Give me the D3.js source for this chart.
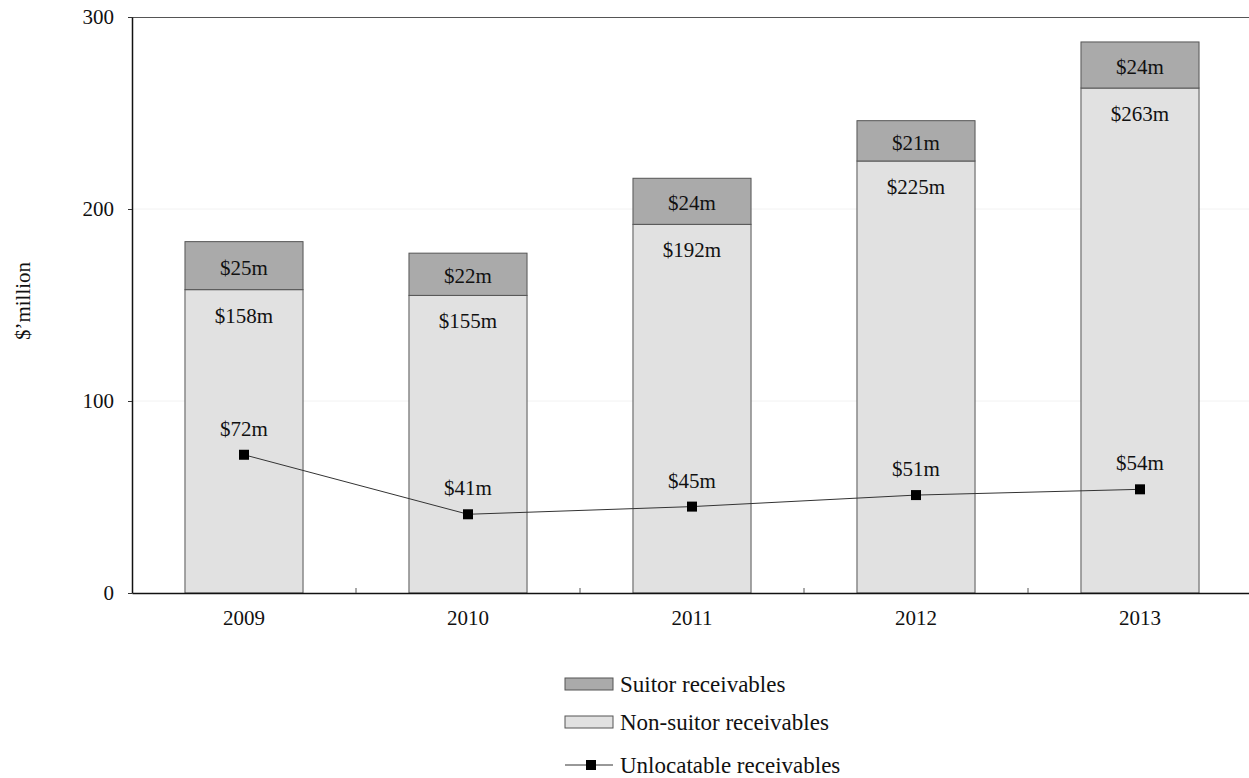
<!DOCTYPE html>
<html>
<head>
<meta charset="utf-8">
<script src="https://cdn.jsdelivr.net/npm/d3@7"></script>
<style>
  html, body { margin: 0; padding: 0; background: #fff; }
  svg { display: block; }
  svg text { font-family: "Liberation Serif", "Times New Roman", serif; fill: #111; }
</style>
</head>
<body>
<svg id="chart" width="1249" height="778"></svg>
<script>
// Receivables by year ($ million)
const years = ["2009", "2010", "2011", "2012", "2013"];
const nonSuitor = [158, 155, 192, 225, 263];
const suitor = [25, 22, 24, 21, 24];
const unlocatable = [72, 41, 45, 51, 54];
const yTicks = [0, 100, 200, 300];
const legendLabels = ["Suitor receivables", "Non-suitor receivables", "Unlocatable receivables"];

const svg = d3.select("#chart");
const plot = { left: 132, right: 1252, top: 17, bottom: 593 };

const x = d3.scaleBand().domain(years).range([plot.left, plot.right]).paddingInner(0).paddingOuter(0);
const y = d3.scaleLinear().domain([0, 300]).range([plot.bottom, plot.top]);
const barW = x.bandwidth() * 0.527;
const cx = d => x(d) + x.bandwidth() / 2;

const colSuitor = "#aaaaaa", colNon = "#e1e1e1", colEdge = "#555555";
const labelSize = "21px";

// faint gridlines
svg.append("g").selectAll("line").data(yTicks.filter(t => t > 0 && t < 300)).join("line")
  .attr("x1", plot.left).attr("x2", plot.right)
  .attr("y1", d => y(d)).attr("y2", d => y(d))
  .attr("stroke", "#f2f2f2").attr("stroke-width", 1);

// top border
svg.append("line").attr("x1", plot.left).attr("x2", plot.right)
  .attr("y1", y(300) + 0.5).attr("y2", y(300) + 0.5)
  .attr("stroke", "#555").attr("stroke-width", 1);

// stacked bars
const bars = svg.append("g");
years.forEach((yr, i) => {
  bars.append("rect")
    .attr("x", cx(yr) - barW / 2).attr("width", barW)
    .attr("y", y(nonSuitor[i])).attr("height", y(0) - y(nonSuitor[i]))
    .attr("fill", colNon).attr("stroke", colEdge).attr("stroke-width", 1);
  bars.append("rect")
    .attr("x", cx(yr) - barW / 2).attr("width", barW)
    .attr("y", y(nonSuitor[i] + suitor[i])).attr("height", y(nonSuitor[i]) - y(nonSuitor[i] + suitor[i]))
    .attr("fill", colSuitor).attr("stroke", colEdge).attr("stroke-width", 1);
  bars.append("text")
    .attr("x", cx(yr)).attr("y", (y(nonSuitor[i]) + y(nonSuitor[i] + suitor[i])) / 2 + 9)
    .attr("text-anchor", "middle").style("font-size", labelSize)
    .text(`$${suitor[i]}m`);
  bars.append("text")
    .attr("x", cx(yr)).attr("y", y(nonSuitor[i]) + 33)
    .attr("text-anchor", "middle").style("font-size", labelSize)
    .text(`$${nonSuitor[i]}m`);
});

// axes
const xAxis = svg.append("g").attr("transform", `translate(0,${plot.bottom})`)
  .call(d3.axisBottom(x).tickSize(0).tickSizeOuter(0).tickPadding(17));
xAxis.select(".domain").attr("stroke", "#111").attr("stroke-width", 1.5);
xAxis.selectAll("text").style("font-size", labelSize)
  .style("font-family", "'Liberation Serif', serif").attr("fill", "#111");
// category separator ticks pointing up
svg.append("g").selectAll("line").data(years.slice(1)).join("line")
  .attr("x1", d => x(d)).attr("x2", d => x(d))
  .attr("y1", plot.bottom).attr("y2", plot.bottom - 5)
  .attr("stroke", "#555");

const yAxis = svg.append("g").attr("transform", `translate(${plot.left},0)`)
  .call(d3.axisLeft(y).tickValues(yTicks).tickSize(4).tickSizeOuter(0).tickPadding(14));
yAxis.select(".domain").attr("stroke", "#111").attr("stroke-width", 1.5);
yAxis.selectAll(".tick line").attr("stroke", "#333");
yAxis.selectAll("text").style("font-size", labelSize)
  .style("font-family", "'Liberation Serif', serif").attr("fill", "#111");

svg.append("text")
  .attr("transform", `translate(30,301) rotate(-90)`)
  .attr("text-anchor", "middle").style("font-size", labelSize)
  .text("$\u2019million");

// unlocatable line
const line = d3.line().x((d, i) => cx(years[i])).y(d => y(d));
svg.append("path").datum(unlocatable).attr("d", line)
  .attr("fill", "none").attr("stroke", "#333").attr("stroke-width", 1);
svg.append("g").selectAll("rect").data(unlocatable).join("rect")
  .attr("x", (d, i) => cx(years[i]) - 5).attr("y", d => y(d) - 5)
  .attr("width", 10).attr("height", 10).attr("fill", "#000");
svg.append("g").selectAll("text").data(unlocatable).join("text")
  .attr("x", (d, i) => cx(years[i])).attr("y", d => y(d) - 19)
  .attr("text-anchor", "middle").style("font-size", labelSize)
  .text(d => `$${d}m`);

// legend
const lg = svg.append("g").attr("transform", "translate(565,0)");
const rows = [684, 722, 765];
lg.append("rect").attr("x", 0).attr("y", rows[0] - 6).attr("width", 48).attr("height", 12)
  .attr("fill", colSuitor).attr("stroke", colEdge);
lg.append("rect").attr("x", 0).attr("y", rows[1] - 6).attr("width", 48).attr("height", 12)
  .attr("fill", colNon).attr("stroke", colEdge);
lg.append("line").attr("x1", 0).attr("x2", 48).attr("y1", rows[2]).attr("y2", rows[2])
  .attr("stroke", "#333");
lg.append("rect").attr("x", 21).attr("y", rows[2] - 5).attr("width", 10).attr("height", 10).attr("fill", "#000");
lg.selectAll("text").data(legendLabels).join("text")
  .attr("x", 55).attr("y", (d, i) => rows[i] + 8)
  .style("font-size", "23px")
  .text(d => d);
</script>
</body>
</html>
